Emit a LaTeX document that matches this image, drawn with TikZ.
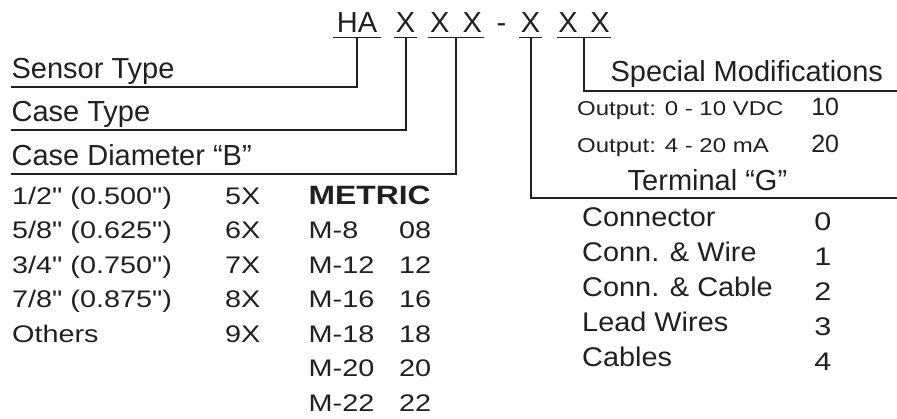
\documentclass[tikz,border=0pt]{standalone}
\usepackage{fontspec}
\setmainfont{Liberation Sans}
\newfontfamily\tabfont[FakeStretch=1.2]{Liberation Sans}
\newfontfamily\termfont[FakeStretch=1.07]{Liberation Sans}
\usepackage{xcolor}
\usepackage{tikz}
\usetikzlibrary{positioning}
\definecolor{preto}{HTML}{231F20}

\begin{document}
\begin{tikzpicture}[x=1pt, y=-1pt,
  titulo/.style={font=\fontsize{29}{34}\selectfont, text=preto, anchor=base west, inner sep=0pt},
  codigo/.style={font=\fontsize{29}{34}\selectfont, text=preto, anchor=base,
                 inner xsep=0pt, inner ysep=5pt, text depth=0pt},
  rotulo/.style={font=\fontsize{29}{34}\selectfont, text=preto, anchor=south west,
                 inner xsep=0pt, inner ysep=8.5pt, text depth=0pt},
  tabela/.style={font=\tabfont\fontsize{24}{28}\selectfont, text=preto, anchor=base west, inner sep=0pt},
  metrico/.style={tabela, font=\tabfont\bfseries\fontsize{26.5}{30}\selectfont},
  saida/.style={tabela, font=\tabfont\fontsize{20}{24}\selectfont},
  valor/.style={font=\fontsize{25}{30}\selectfont, text=preto, anchor=base east, inner sep=0pt},
  terminal/.style={tabela, font=\termfont\fontsize{27}{32}\selectfont},
  numero/.style={font=\tabfont\fontsize{25.5}{30}\selectfont, text=preto, anchor=base, inner sep=0pt},
  linha/.style={draw=preto, line width=2pt},
  sublinha/.style={draw=preto, line width=1.6pt}]

  \useasboundingbox (0,0) rectangle (897,418);

  % model code
  \node[codigo, minimum width=47.6pt] (ha) at (357,32.3) {HA};
  \node[codigo, minimum width=23.4pt] (x1) at (405.5,32.3) {X};
  \node[codigo, minimum width=55pt] (x23) at (456,32.3) {X \hspace{5pt}X};
  \node[codigo] (traco) at (501.5,32.3) {-};
  \node[codigo, minimum width=23.4pt] (x4) at (530.5,32.3) {X};
  \node[codigo, minimum width=53.3pt] (x56) at (584,32.3) {X \hspace{4.5pt}X};

  \draw[sublinha] (ha.south west) -- (ha.south east);
  \draw[sublinha] (x1.south west) -- (x1.south east);
  \draw[sublinha] (x23.south west) -- (x23.south east);
  \draw[sublinha] (x4.south west) -- (x4.south east);
  \draw[sublinha] (x56.south west) -- (x56.south east);

  % left labels
  \node[rotulo] (tsen) at (11.4,86.7) {Sensor Type};
  \node[rotulo] (tcaixa) at (11.4,130) {Case Type};
  \node[rotulo] (tdiam) at (11.4,174) {Case Diameter “B”};

  % right labels
  \node[titulo] (tesp) at (610.4,81.7) {Special Modifications};
  \node[saida] (s1) at (577,115) {Output: 0 - 10 VDC};
  \node[saida] (s2) at (577,152) {Output: 4 - 20 mA};
  \node[valor] (v1) at (839.3,115) {10};
  \node[valor] (v2) at (839.3,152) {20};
  \node[titulo] (tterm) at (627.5,190) {Terminal “G”};

  \coordinate (bordaM) at (897,90.7);
  \coordinate (bordaT) at (897,198.3);

  \draw[linha] (ha.south) |- (tsen.south west);
  \draw[linha] (x1.south) |- (tcaixa.south west);
  \draw[linha] (x23.south) |- (tdiam.south west);
  \draw[linha] (x56.south) |- (bordaM);
  \draw[linha] (x4.south) |- (bordaT);

  % case diameter table
  \node[tabela] (d1) at (12,204) {1/2" (0.500")};
  \node[tabela] (d2) at (12,238.5) {5/8" (0.625")};
  \node[tabela] (d3) at (12,273) {3/4" (0.750")};
  \node[tabela] (d4) at (12,307.5) {7/8" (0.875")};
  \node[tabela] (d5) at (12,342) {Others};
  \node[tabela] (c1) at (225,204) {5X};
  \node[tabela] (c2) at (225,238.5) {6X};
  \node[tabela] (c3) at (225,273) {7X};
  \node[tabela] (c4) at (225,307.5) {8X};
  \node[tabela] (c5) at (225,342) {9X};

  \node[metrico] (m0) at (308.5,204) {METRIC};
  \node[tabela] (m1) at (308.5,238.5) {M-8};
  \node[tabela] (m2) at (308.5,273) {M-12};
  \node[tabela] (m3) at (308.5,307.5) {M-16};
  \node[tabela] (m4) at (308.5,342) {M-18};
  \node[tabela] (m5) at (308.5,376.5) {M-20};
  \node[tabela] (m6) at (308.5,411) {M-22};
  \node[tabela] (n1) at (399,238.5) {08};
  \node[tabela] (n2) at (399,273) {12};
  \node[tabela] (n3) at (399,307.5) {16};
  \node[tabela] (n4) at (399,342) {18};
  \node[tabela] (n5) at (399,376.5) {20};
  \node[tabela] (n6) at (399,411) {22};

  % terminal table
  \node[terminal] (g0) at (582,226) {Connector};
  \node[terminal] (g1) at (582,261) {Conn. \& Wire};
  \node[terminal] (g2) at (582,296.5) {Conn. \& Cable};
  \node[terminal] (g3) at (582,331) {Lead Wires};
  \node[terminal] (g4) at (582,366) {Cables};
  \node[numero] (k0) at (823,230) {0};
  \node[numero] (k1) at (823,265) {1};
  \node[numero] (k2) at (823,300) {2};
  \node[numero] (k3) at (823,335) {3};
  \node[numero] (k4) at (823,370.5) {4};
\end{tikzpicture}
\end{document}
